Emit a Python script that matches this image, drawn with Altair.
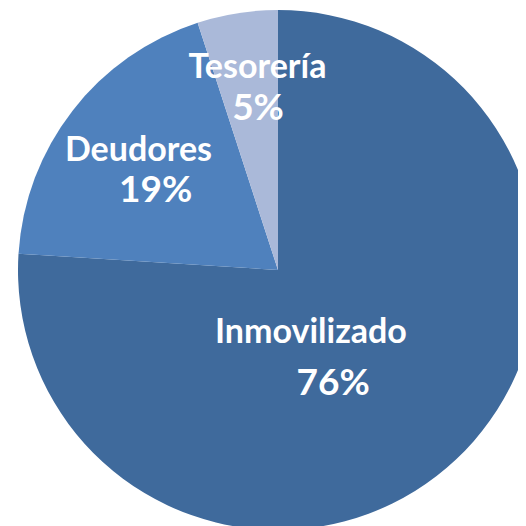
import math
import altair as alt
import pandas as pd

# ---- data ----
categories = ["Inmovilizado", "Deudores", "Tesorería"]
values = [76, 19, 5]
colors = ["#3F6A9C", "#4F81BD", "#AAB9D9"]

df = pd.DataFrame({"cat": categories, "value": values, "ord": list(range(len(categories)))})

# ---- label placement (style): offset from slice mid-angle (deg) and radius (px) ----
name_place = {"Inmovilizado": (18.9, 80), "Deudores": (0.2, 177), "Tesorería": (2.9, 193)}
pct_place = {"Inmovilizado": (19.45, 137), "Deudores": (-8.7, 140), "Tesorería": (1.4, 151)}

total = sum(values)
rows = []
cum = 0
for c, v in zip(categories, values):
    mid = (cum + v / 2) / total * 360
    cum += v
    a1, r1 = name_place[c]
    a2, r2 = pct_place[c]
    rows.append({"t": c, "a": math.radians(mid + a1), "r": r1, "kind": "name"})
    rows.append({"t": f"{round(v / total * 100)}%", "a": math.radians(mid + a2), "r": r2, "kind": "pct"})
lbl = pd.DataFrame(rows)

W, H = 510, 518
CX, CY, R = 270, 262, 260

pie = alt.Chart(df).mark_arc(radius=R).encode(
    theta=alt.Theta("value:Q", stack=True),
    order=alt.Order("ord:Q"),
    color=alt.Color("cat:N", scale=alt.Scale(domain=categories, range=colors), legend=None),
    x=alt.value(CX),
    y=alt.value(CY),
)

def text_layer(kind, size):
    return alt.Chart(lbl).transform_filter(alt.datum.kind == kind).mark_text(
        font="Lato", fontWeight="bold", fontSize=size, color="white",
        align="center", baseline="alphabetic",
    ).encode(
        theta=alt.Theta("a:Q", scale=None),
        radius=alt.Radius("r:Q", scale=None),
        text="t:N",
        x=alt.value(CX),
        y=alt.value(CY),
    )

chart = alt.layer(pie, text_layer("name", 34), text_layer("pct", 37)).properties(
    width=W, height=H, autosize=alt.AutoSizeParams(type="none"), padding=0
).configure_view(stroke=None)

chart.save("out.html", embed_options={"renderer": "svg", "actions": False})
